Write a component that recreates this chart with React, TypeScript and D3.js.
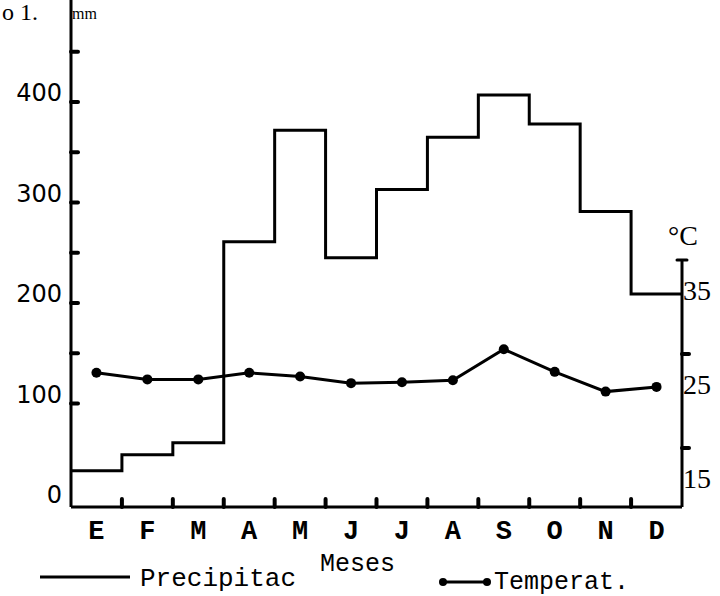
import * as d3 from "d3";
import { useMemo } from "react";

/* ------------------------------------------------------------------ */
/*  Data                                                               */
/* ------------------------------------------------------------------ */

const MONTHS = ["E", "F", "M", "A", "M2", "J", "J2", "A2", "S", "O", "N", "D"];
const MONTH_LABELS = ["E", "F", "M", "A", "M", "J", "J", "A", "S", "O", "N", "D"];
const PRECIP = [33, 49, 61, 261, 372, 245, 313, 365, 407, 378, 291, 209];
const TEMP = [28.0, 27.3, 27.3, 28.0, 27.6, 26.9, 27.0, 27.2, 30.5, 28.1, 26.0, 26.5];

const PRECIP_LABELS = [0, 100, 200, 300, 400];
const PRECIP_TICKS = [100, 150, 200, 250, 300, 350, 400, 450];
const TEMP_LABELS = [15, 25, 35];
const TEMP_TICKS = [20, 30];

/* ------------------------------------------------------------------ */
/*  Theme                                                              */
/* ------------------------------------------------------------------ */

const W = 720;
const H = 596;
const INK = "#000";
const MONO = "'Liberation Mono', 'DejaVu Sans Mono', monospace";
const SERIF = "'Liberation Serif', 'DejaVu Serif', serif";
const SANS = "'DejaVu Sans', sans-serif";

export default function App() {
  const x = useMemo(
    () => d3.scaleBand<string>().domain(MONTHS).range([71, 682]).padding(0),
    [],
  );
  const yP = useMemo(() => d3.scaleLinear().domain([0, 400]).range([504, 102]), []);
  const yT = useMemo(() => d3.scaleLinear().domain([20, 30]).range([448, 354]), []);

  const axisBottom = 507;
  const xLeft = x.range()[0];
  const xRight = x.range()[1];

  /* Precipitation step line */
  const stepPts: [number, number][] = MONTHS.map((m, i) => [x(m)!, yP(PRECIP[i])]);
  stepPts.push([xRight, yP(PRECIP[PRECIP.length - 1])]);
  const stepPath = d3.line().curve(d3.curveStepAfter)(stepPts) ?? "";

  /* Temperature line */
  const tempPts: [number, number][] = MONTHS.map((m, i) => [
    x(m)! + x.bandwidth() / 2,
    yT(TEMP[i]),
  ]);
  const tempPath = d3.line()(tempPts) ?? "";

  return (
    <svg
      width={W}
      height={H}
      style={{ position: "absolute", left: 0, top: 0, background: "#fff" }}
    >
      {/* Top-left unit label */}
      <text x={2} y={20} fontFamily={SERIF} fontSize={24} fill={INK}>
        o 1.
      </text>
      <text x={72} y={19} fontFamily={SERIF} fontSize={16} fill={INK}>
        mm
      </text>

      {/* Left axis */}
      <line x1={xLeft} x2={xLeft} y1={0} y2={axisBottom} stroke={INK} strokeWidth={3} />
      {PRECIP_TICKS.map((v) => (
        <line
          key={`lt${v}`}
          x1={xLeft}
          x2={xLeft + 7}
          y1={yP(v)}
          y2={yP(v)}
          stroke={INK}
          strokeWidth={4}
          strokeLinecap="round"
        />
      ))}
      {PRECIP_LABELS.map((v) => (
        <text
          key={`ll${v}`}
          x={62}
          y={yP(v) - 9}
          textAnchor="end"
          dominantBaseline="central"
          fontFamily={SANS}
          fontSize={24}
          fill={INK}
        >
          {v}
        </text>
      ))}

      {/* Bottom axis */}
      <line x1={xLeft} x2={xRight} y1={axisBottom} y2={axisBottom} stroke={INK} strokeWidth={3} />
      {MONTHS.slice(1).map((m) => (
        <line
          key={`bt${m}`}
          x1={x(m)!}
          x2={x(m)!}
          y1={axisBottom}
          y2={axisBottom - 8}
          stroke={INK}
          strokeWidth={4}
          strokeLinecap="round"
        />
      ))}
      {MONTHS.map((m, i) => (
        <text
          key={`bl${m}`}
          x={x(m)! + x.bandwidth() / 2}
          y={539}
          textAnchor="middle"
          fontFamily={MONO}
          fontWeight="bold"
          fontSize={27}
          fill={INK}
        >
          {MONTH_LABELS[i]}
        </text>
      ))}
      <text x={320} y={571} fontFamily={MONO} fontSize={25} fill={INK}>
        Meses
      </text>

      {/* Right axis */}
      <line x1={xRight} x2={xRight} y1={yT(40)} y2={axisBottom} stroke={INK} strokeWidth={3} />
      <line
        x1={xRight - 5}
        x2={xRight + 5}
        y1={yT(40)}
        y2={yT(40)}
        stroke={INK}
        strokeWidth={3}
        strokeLinecap="round"
      />
      {TEMP_TICKS.map((v) => (
        <line
          key={`rt${v}`}
          x1={xRight}
          x2={xRight + 7}
          y1={yT(v)}
          y2={yT(v)}
          stroke={INK}
          strokeWidth={4}
          strokeLinecap="round"
        />
      ))}
      {TEMP_LABELS.map((v) => (
        <text
          key={`rl${v}`}
          x={xRight + 1}
          y={yT(v) - 17}
          dominantBaseline="central"
          fontFamily={SERIF}
          fontSize={28}
          fill={INK}
        >
          {v}
        </text>
      ))}
      <text x={668} y={245} fontFamily={SERIF} fontSize={28} fill={INK}>
        °C
      </text>

      {/* Precipitation */}
      <path d={stepPath} fill="none" stroke={INK} strokeWidth={3} />

      {/* Temperature */}
      <path d={tempPath} fill="none" stroke={INK} strokeWidth={3} />
      {tempPts.map(([cx, cy], i) => (
        <circle key={`tp${i}`} cx={cx} cy={cy} r={5} fill={INK} />
      ))}

      {/* Legend */}
      <line x1={40} x2={130} y1={577} y2={577} stroke={INK} strokeWidth={3} />
      <text x={140} y={586} fontFamily={MONO} fontSize={26} fill={INK}>
        Precipitac
      </text>
      <line x1={443} x2={487} y1={582} y2={582} stroke={INK} strokeWidth={3} />
      <circle cx={443} cy={582} r={4} fill={INK} />
      <circle cx={487} cy={582} r={4} fill={INK} />
      <text x={494} y={589} fontFamily={MONO} fontSize={25} fill={INK}>
        Temperat.
      </text>
    </svg>
  );
}
